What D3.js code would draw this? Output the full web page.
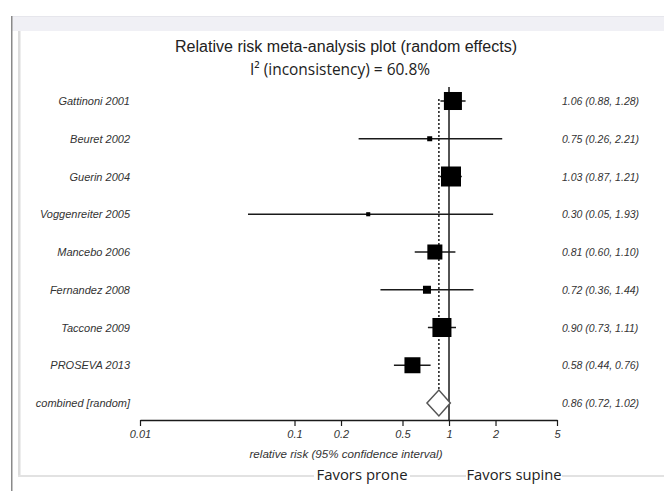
<!DOCTYPE html>
<html>
<head>
<meta charset="utf-8">
<script src="https://cdn.jsdelivr.net/npm/d3@7"></script>
<style>
  html, body { margin: 0; padding: 0; background: #ffffff; }
  svg { display: block; }
</style>
</head>
<body>
<div id="chart"></div>
<script>
// ---- Data ----
const studies = ["Gattinoni 2001", "Beuret 2002", "Guerin 2004", "Voggenreiter 2005",
                 "Mancebo 2006", "Fernandez 2008", "Taccone 2009", "PROSEVA 2013"];
const rr      = [1.06, 0.75, 1.03, 0.30, 0.81, 0.72, 0.90, 0.58];
const lower   = [0.88, 0.26, 0.87, 0.05, 0.60, 0.36, 0.73, 0.44];
const upper   = [1.28, 2.21, 1.21, 1.93, 1.10, 1.44, 1.11, 0.76];
const weights = [19.4, 1.5, 23.9, 1.0, 13.5, 3.8, 21.6, 15.3];
const combinedLabel = "combined [random]";
const combined = { rr: 0.86, lower: 0.72, upper: 1.02 };
const tickValues = [0.01, 0.1, 0.2, 0.5, 1, 2, 5];
const tickLabels = ["0.01", "0.1", "0.2", "0.5", "1", "2", "5"];
const titleLine1 = "Relative risk meta-analysis plot (random effects)";
const titleLine2 = "I\u00B2 (inconsistency) = 60.8%";
const axisTitle = "relative risk (95% confidence interval)";
const favorLabels = ["Favors prone", "Favors supine"];

const fmt = d3.format(".2f");

// ---- Layout ----
const W = 664, H = 491;
const svg = d3.select("#chart").append("svg").attr("width", W).attr("height", H);

// page frame
svg.append("rect").attr("x", 11).attr("y", 16).attr("width", W - 11).attr("height", 15).attr("fill", "#f0f0f5");
svg.append("rect").attr("x", 11).attr("y", 16).attr("width", W - 11).attr("height", 1).attr("fill", "#e6e6ec");
svg.append("rect").attr("x", 11).attr("y", 16).attr("width", 1.5).attr("height", H - 16).attr("fill", "#8a8a8a");
svg.append("rect").attr("x", 18).attr("y", 31).attr("width", 2.5).attr("height", 446).attr("fill", "#dcdcdc");
svg.append("rect").attr("x", 18).attr("y", 475).attr("width", W - 18).attr("height", 2).attr("fill", "#e2e2e2");

const x = d3.scaleLog().domain([0.01, 5]).range([140, 557]);
const rows = studies.concat([combinedLabel]);
const y = d3.scalePoint().domain(rows).range([101, 403]);
const side = d3.scaleSqrt().domain([0, d3.max(weights)]).range([0, 20]);

const ink = "#1a1a1a";

// titles
svg.append("text").attr("x", 346).attr("y", 52).attr("text-anchor", "middle")
  .attr("font-family", "'Liberation Sans Narrow', 'Liberation Sans', Arial, sans-serif")
  .attr("font-size", 16).attr("fill", "#222")
  .attr("textLength", 342).attr("lengthAdjust", "spacingAndGlyphs")
  .text(titleLine1);
svg.append("text").attr("x", 340).attr("y", 75).attr("text-anchor", "middle")
  .attr("font-family", "'Open Sans', 'Liberation Sans', Arial, sans-serif")
  .attr("font-size", 16).attr("fill", "#222")
  .attr("textLength", 180).attr("lengthAdjust", "spacingAndGlyphs")
  .text(titleLine2);

// reference line at RR = 1
svg.append("line").attr("x1", x(1)).attr("x2", x(1)).attr("y1", 87).attr("y2", 420)
  .attr("stroke", ink).attr("stroke-width", 1.5);

// dotted line at combined estimate
svg.append("line").attr("x1", x(combined.rr)).attr("x2", x(combined.rr))
  .attr("y1", 99).attr("y2", y(combinedLabel) - 13)
  .attr("stroke", ink).attr("stroke-width", 1.5).attr("stroke-dasharray", "2,2");

// CI lines
const idx = d3.range(studies.length);
svg.append("g").selectAll("line").data(idx).join("line")
  .attr("x1", i => x(lower[i])).attr("x2", i => x(upper[i]))
  .attr("y1", i => y(studies[i])).attr("y2", i => y(studies[i]))
  .attr("stroke", ink).attr("stroke-width", 1.5);

// squares
svg.append("g").selectAll("rect").data(idx).join("rect")
  .attr("x", i => x(rr[i]) - side(weights[i]) / 2)
  .attr("y", i => y(studies[i]) - side(weights[i]) / 2)
  .attr("width", i => side(weights[i]))
  .attr("height", i => side(weights[i]))
  .attr("fill", "#000");

// combined diamond
const cy = y(combinedLabel);
svg.append("path")
  .attr("d", `M${x(combined.lower)},${cy} L${x(combined.rr)},${cy - 13} L${x(combined.upper)},${cy} L${x(combined.rr)},${cy + 13} Z`)
  .attr("fill", "#fff").attr("stroke", "#555").attr("stroke-width", 1.5);

// left labels
svg.append("g").selectAll("text").data(rows).join("text")
  .attr("x", 130).attr("y", d => y(d) + 4).attr("text-anchor", "end")
  .attr("font-family", "'Liberation Sans', Arial, sans-serif").attr("font-style", "italic")
  .attr("font-size", 11).attr("fill", "#333")
  .text(d => d);

// right labels
const rightText = idx.map(i => `${fmt(rr[i])} (${fmt(lower[i])}, ${fmt(upper[i])})`)
  .concat([`${fmt(combined.rr)} (${fmt(combined.lower)}, ${fmt(combined.upper)})`]);
svg.append("g").selectAll("text").data(rows).join("text")
  .attr("x", 562).attr("y", d => y(d) + 4)
  .attr("font-family", "'Liberation Sans', Arial, sans-serif").attr("font-style", "italic")
  .attr("font-size", 10.5).attr("fill", "#333")
  .text((d, i) => rightText[i]);

// axis
const axis = d3.axisBottom(x).tickValues(tickValues)
  .tickFormat((d, i) => tickLabels[i]).tickSize(6).tickSizeOuter(0).tickPadding(4);
const gAxis = svg.append("g").attr("transform", "translate(0,420)").call(axis);
gAxis.select(".domain").attr("stroke", ink).attr("stroke-width", 1.5);
gAxis.selectAll(".tick line").attr("stroke", ink).attr("stroke-width", 1.2);
gAxis.selectAll(".tick text")
  .attr("font-family", "'Liberation Sans', Arial, sans-serif").attr("font-style", "italic")
  .attr("font-size", 11).attr("fill", "#333");

svg.append("text").attr("x", 346).attr("y", 458).attr("text-anchor", "middle")
  .attr("font-family", "'Liberation Sans', Arial, sans-serif").attr("font-style", "italic")
  .attr("font-size", 10).attr("fill", "#333")
  .attr("textLength", 193).attr("lengthAdjust", "spacingAndGlyphs")
  .text(axisTitle);

// favors labels
const favorX = [362, 514];
favorLabels.forEach((t, i) => {
  svg.append("rect").attr("x", favorX[i] - 48).attr("y", 466).attr("width", 96).attr("height", 16).attr("fill", "#fff");
  svg.append("text").attr("x", favorX[i]).attr("y", 480).attr("text-anchor", "middle")
    .attr("font-family", "'Open Sans', 'Liberation Sans', sans-serif")
    .attr("font-size", 14).attr("fill", "#222")
    .attr("textLength", i === 0 ? 91 : 95).attr("lengthAdjust", "spacingAndGlyphs")
    .text(t);
});
</script>
</body>
</html>
